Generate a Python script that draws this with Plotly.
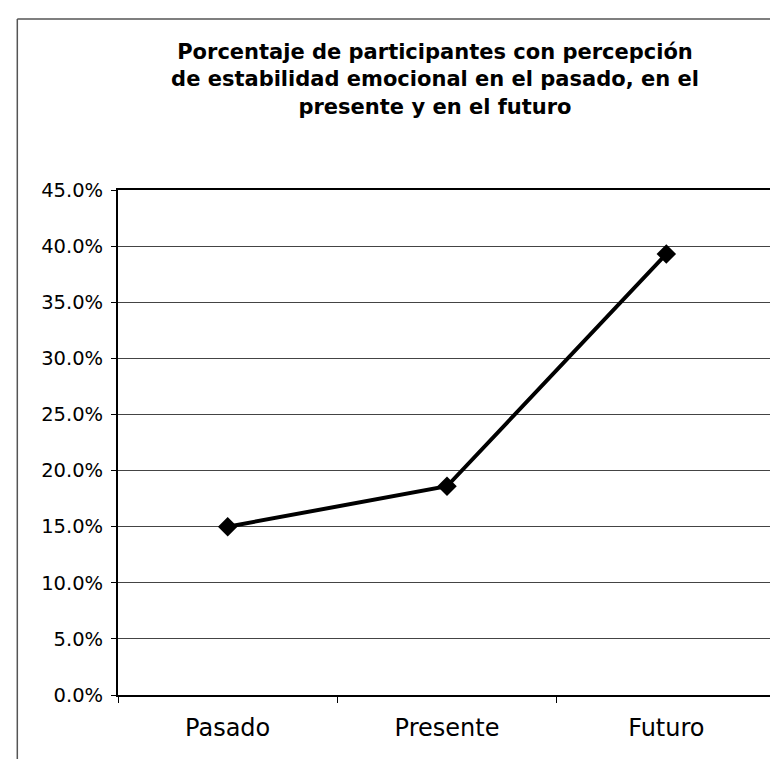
import plotly.graph_objects as go

categories = ["Pasado", "Presente", "Futuro"]
values = [15.0, 18.6, 39.3]
y_ticks = [0, 5, 10, 15, 20, 25, 30, 35, 40, 45]
title_text = ("Porcentaje de participantes con percepción<br>"
              "de estabilidad emocional en el pasado, en el<br>"
              "presente y en el futuro")

W, H = 778, 759
L, R, T, B = 110, 8, 182, 72
pw, ph = W - L - R, H - T - B
FONT = "DejaVu Sans, Arial, sans-serif"

def px_to_paper_x(px):
    return (px - L) / pw

def py_to_paper_y(py):
    return (H - B - py) / ph

fig = go.Figure()
fig.add_trace(go.Scatter(
    x=categories, y=values, mode="lines+markers",
    line=dict(color="black", width=4),
    marker=dict(symbol="diamond", size=15, color="black"),
    showlegend=False, cliponaxis=False,
))

fig.update_layout(
    width=W, height=H,
    margin=dict(l=L, r=R, t=T, b=B),
    paper_bgcolor="white", plot_bgcolor="white",
    font=dict(family=FONT, color="black"),
    title=dict(text="<b>" + title_text + "</b>", x=427 / W, xanchor="center",
               xref="container", y=1 - 51 / H, yref="container", yanchor="top",
               font=dict(size=21, color="black", family=FONT)),
    xaxis=dict(
        type="category", range=[-0.5, 2.5],
        showline=True, linecolor="black", linewidth=2, mirror=True,
        ticks="outside", tickson="boundaries", ticklen=6, tickcolor="black",
        tickwidth=1, showgrid=False, ticklabelstandoff=10,
        tickfont=dict(size=24, color="black", family=FONT),
    ),
    yaxis=dict(
        range=[0, 45], tickvals=y_ticks,
        ticktext=[f"{v:.1f}%" for v in y_ticks],
        showline=True, linecolor="black", linewidth=2, mirror=True,
        ticks="outside", ticklen=5, tickcolor="black", tickwidth=1,
        showgrid=True, gridcolor="#444444", gridwidth=1,
        zeroline=False, tickfont=dict(size=19.5, color="black", family=FONT),
        ticklabelstandoff=4,
    ),
    shapes=[
        dict(type="line", xref="paper", yref="paper",
             x0=px_to_paper_x(9), x1=px_to_paper_x(W), y0=py_to_paper_y(11), y1=py_to_paper_y(11),
             line=dict(color="#555555", width=1.5)),
        dict(type="line", xref="paper", yref="paper",
             x0=px_to_paper_x(9), x1=px_to_paper_x(9), y0=py_to_paper_y(11), y1=py_to_paper_y(H),
             line=dict(color="#555555", width=1.5)),
    ],
)

fig.write_html("out.html")
